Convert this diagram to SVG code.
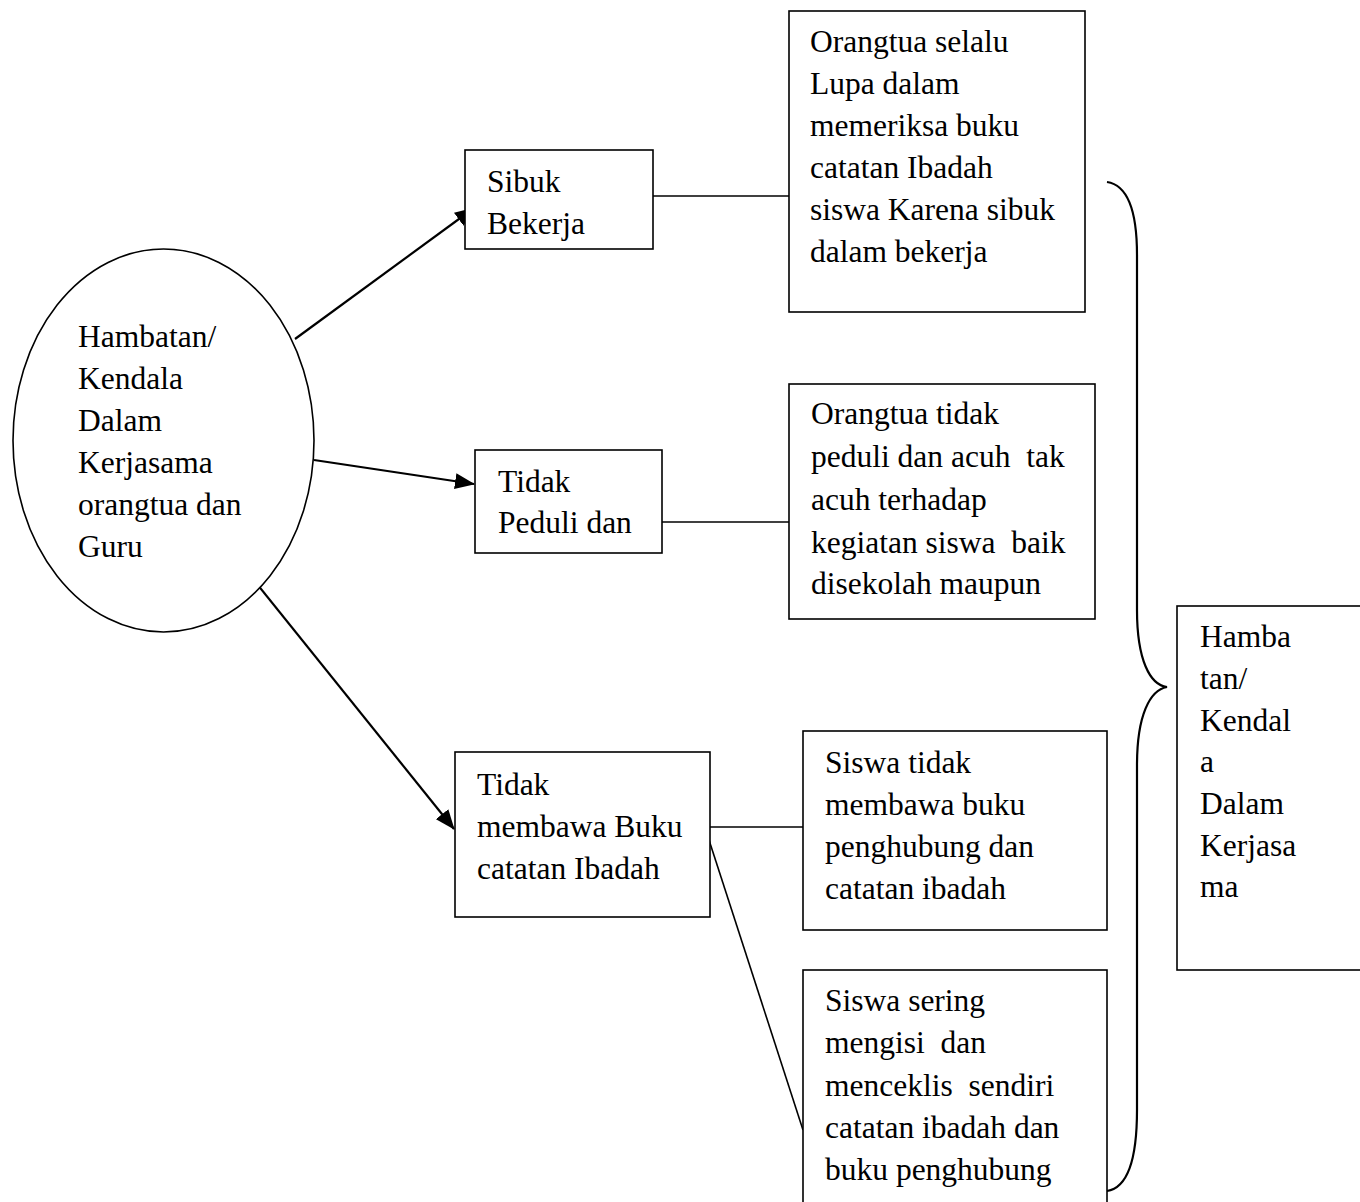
<svg xmlns="http://www.w3.org/2000/svg" width="1360" height="1202" viewBox="0 0 1360 1202">
<style>
.b{fill:#fff;stroke:#000;stroke-width:1.6}
.t{font-family:"Liberation Serif","Times New Roman",serif;font-size:31.5px;fill:#000;white-space:pre}
.c{fill:none;stroke:#000;stroke-width:1.6}
.a{fill:none;stroke:#000;stroke-width:2.2}
</style>
<defs>
<marker id="ah" markerUnits="userSpaceOnUse" markerWidth="20" markerHeight="16" refX="19" refY="8" orient="auto">
<path d="M0,0 L20,8 L0,16 Z" fill="#000"/>
</marker>
</defs>
<rect width="1360" height="1202" fill="#fff"/>
<g id="connectors">
<line class="a" x1="295" y1="339" x2="474" y2="208" marker-end="url(#ah)"/>
<line class="a" x1="314" y1="460" x2="474" y2="484" marker-end="url(#ah)"/>
<line class="a" x1="249" y1="574" x2="454" y2="829" marker-end="url(#ah)"/>
<line class="c" x1="653" y1="196" x2="789" y2="196"/>
<line class="c" x1="662" y1="522" x2="789" y2="522"/>
<line class="c" x1="710" y1="827" x2="803" y2="827"/>
<line class="c" x1="709" y1="840" x2="803" y2="1130"/>
<path class="a" d="M1107,182 C1127,185 1137,210 1137,255 L1137,610 C1137,660 1150,685 1167,687 C1150,690 1137,715 1137,765 L1137,1110 C1137,1160 1127,1188 1107,1191"/>
</g>
<g id="n-main">
<ellipse class="b" cx="163.5" cy="440.5" rx="150.5" ry="191.5"/>
<text class="t" x="78" y="347">Hambatan/</text>
<text class="t" x="78" y="389">Kendala</text>
<text class="t" x="78" y="431">Dalam</text>
<text class="t" x="78" y="473">Kerjasama</text>
<text class="t" x="78" y="515">orangtua dan</text>
<text class="t" x="78" y="557">Guru</text>
</g>
<g id="n-sibuk">
<rect class="b" x="465" y="150" width="188" height="99"/>
<text class="t" x="487" y="192">Sibuk</text>
<text class="t" x="487" y="234">Bekerja</text>
</g>
<g id="n-peduli">
<rect class="b" x="475" y="450" width="187" height="103"/>
<text class="t" x="498" y="492">Tidak</text>
<text class="t" x="498" y="533">Peduli dan</text>
</g>
<g id="n-membawa">
<rect class="b" x="455" y="752" width="255" height="165"/>
<text class="t" x="477" y="795">Tidak</text>
<text class="t" x="477" y="837">membawa Buku</text>
<text class="t" x="477" y="879">catatan Ibadah</text>
</g>
<g id="n-lupa">
<rect class="b" x="789" y="11" width="296" height="301"/>
<text class="t" x="810" y="52">Orangtua selalu</text>
<text class="t" x="810" y="94">Lupa dalam</text>
<text class="t" x="810" y="136">memeriksa buku</text>
<text class="t" x="810" y="178">catatan Ibadah</text>
<text class="t" x="810" y="220">siswa Karena sibuk</text>
<text class="t" x="810" y="262">dalam bekerja</text>
</g>
<g id="n-acuh">
<rect class="b" x="789" y="384" width="306" height="235"/>
<text class="t" x="811" y="424">Orangtua tidak</text>
<text class="t" x="811" y="467">peduli dan acuh  tak</text>
<text class="t" x="811" y="510">acuh terhadap</text>
<text class="t" x="811" y="553">kegiatan siswa  baik</text>
<text class="t" x="811" y="594">disekolah maupun</text>
</g>
<g id="n-tidakbawa">
<rect class="b" x="803" y="731" width="304" height="199"/>
<text class="t" x="825" y="773">Siswa tidak</text>
<text class="t" x="825" y="815">membawa buku</text>
<text class="t" x="825" y="857">penghubung dan</text>
<text class="t" x="825" y="899">catatan ibadah</text>
</g>
<g id="n-sering">
<rect class="b" x="803" y="970" width="304" height="240"/>
<text class="t" x="825" y="1011">Siswa sering</text>
<text class="t" x="825" y="1053">mengisi  dan</text>
<text class="t" x="825" y="1096">menceklis  sendiri</text>
<text class="t" x="825" y="1138">catatan ibadah dan</text>
<text class="t" x="825" y="1180">buku penghubung</text>
</g>
<g id="n-hambatan">
<rect class="b" x="1177" y="606" width="200" height="364"/>
<text class="t" x="1200" y="647">Hamba</text>
<text class="t" x="1200" y="689">tan/</text>
<text class="t" x="1200" y="731">Kendal</text>
<text class="t" x="1200" y="772">a</text>
<text class="t" x="1200" y="814">Dalam</text>
<text class="t" x="1200" y="856">Kerjasa</text>
<text class="t" x="1200" y="897">ma</text>
</g>
</svg>
